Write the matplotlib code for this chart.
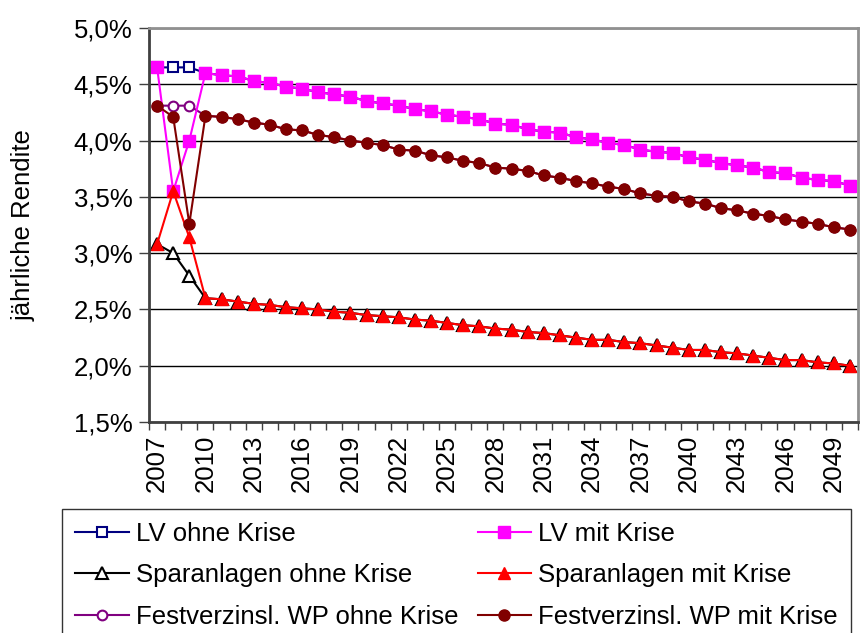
import matplotlib.pyplot as plt
from matplotlib.ticker import FuncFormatter

plt.rcParams['font.family'] = ['Liberation Sans', 'DejaVu Sans']

# Daten
jahre = list(range(2007, 2051))

lv_mit = [4.65, 3.55, 4.00,
          4.60, 4.58, 4.57, 4.53, 4.51, 4.48, 4.46, 4.43, 4.41, 4.39,
          4.35, 4.33, 4.31, 4.28, 4.26, 4.23, 4.21, 4.19, 4.15, 4.14,
          4.10, 4.08, 4.07, 4.03, 4.01, 3.98, 3.96, 3.92, 3.90, 3.89,
          3.85, 3.83, 3.80, 3.78, 3.76, 3.72, 3.71, 3.67, 3.65, 3.64, 3.60]
lv_ohne = [4.65, 4.65, 4.65] + lv_mit[3:]

spar_mit = [3.08, 3.55, 3.14,
            2.60, 2.59, 2.57, 2.55, 2.54, 2.52, 2.51, 2.50, 2.48, 2.47,
            2.45, 2.44, 2.43, 2.41, 2.40, 2.38, 2.36, 2.35, 2.33, 2.32,
            2.30, 2.29, 2.27, 2.25, 2.23, 2.23, 2.21, 2.20, 2.18, 2.16,
            2.14, 2.14, 2.12, 2.11, 2.09, 2.07, 2.05, 2.05, 2.03, 2.02, 2.00]
spar_ohne = [3.08, 3.00, 2.80] + spar_mit[3:]

fest_mit = [4.31, 4.21, 3.26,
            4.22, 4.21, 4.19, 4.16, 4.14, 4.10, 4.09, 4.05, 4.03, 4.00,
            3.98, 3.96, 3.92, 3.91, 3.87, 3.85, 3.82, 3.80, 3.76, 3.75,
            3.73, 3.69, 3.67, 3.64, 3.62, 3.59, 3.57, 3.53, 3.51, 3.50,
            3.46, 3.44, 3.40, 3.38, 3.35, 3.33, 3.30, 3.28, 3.26, 3.23, 3.21]
fest_ohne = [4.31, 4.31, 4.31] + fest_mit[3:]

fs = 18.5

fig = plt.figure(figsize=(8.64, 6.33), dpi=100)
ax = fig.add_axes([0.1725, 0.3333, 0.8205, 0.6225])

x = list(range(len(jahre)))
lw = 1.5

h_lv_o, = ax.plot(x, lv_ohne, color='#000080', lw=lw, marker='s', ms=7,
                  mfc='white', mec='#000080', mew=1.5, label='LV ohne Krise')
h_sp_o, = ax.plot(x, spar_ohne, color='black', lw=lw, marker='^', ms=8,
                  mfc='white', mec='black', mew=1.5, label='Sparanlagen ohne Krise')
h_fe_o, = ax.plot(x, fest_ohne, color='#800080', lw=lw, marker='o', ms=7,
                  mfc='white', mec='#800080', mew=1.5, label='Festverzinsl. WP ohne Krise')
h_lv_m, = ax.plot(x, lv_mit, color='#FF00FF', lw=lw, marker='s', ms=8,
                  mfc='#FF00FF', mec='#FF00FF', label='LV mit Krise')
h_sp_m, = ax.plot(x, spar_mit, color='#FF0000', lw=lw, marker='^', ms=9,
                  mfc='#FF0000', mec='#FF0000', label='Sparanlagen mit Krise')
h_fe_m, = ax.plot(x, fest_mit, color='#800000', lw=lw, marker='o', ms=8,
                  mfc='#800000', mec='#800000', label='Festverzinsl. WP mit Krise')

ax.set_ylim(1.5, 5.0)
ax.set_yticks([1.5, 2.0, 2.5, 3.0, 3.5, 4.0, 4.5, 5.0])
ax.yaxis.set_major_formatter(FuncFormatter(lambda v, p: f'{v:.1f}%'.replace('.', ',')))
ax.grid(axis='y', color='black', lw=1)
ax.set_axisbelow(True)

ax.set_xlim(-0.5, len(jahre) - 0.5)
ax.set_xticks(x[::3])
ax.set_xticklabels([str(j) for j in jahre[::3]], rotation=90)
ax.set_xticks([i - 0.5 for i in range(len(jahre) + 1)], minor=True)
ax.tick_params(axis='x', which='major', length=0, pad=9, labelsize=fs)
ax.tick_params(axis='x', which='minor', length=6, width=1, color='#404040')
ax.tick_params(axis='y', length=7, width=1, color='#404040', labelsize=fs, pad=5)

for s in ['left', 'bottom']:
    ax.spines[s].set_color('#404040')
    ax.spines[s].set_linewidth(2)
for s in ['right', 'top']:
    ax.spines[s].set_color('#909090')
    ax.spines[s].set_linewidth(2)

ax.set_ylabel('jährliche Rendite', fontsize=fs, labelpad=27)

leg = fig.legend(handles=[h_lv_o, h_sp_o, h_fe_o, h_lv_m, h_sp_m, h_fe_m],
                 loc='upper left', bbox_to_anchor=(62 / 864, 1 - 509 / 633),
                 ncol=2, fontsize=fs, frameon=True,
                 fancybox=False, edgecolor='black', handlelength=2.1,
                 handletextpad=0.27, labelspacing=0.68, borderaxespad=0,
                 borderpad=0.5, columnspacing=0.75)
leg.get_frame().set_linewidth(1)

fig.savefig('out.png', dpi=100)
